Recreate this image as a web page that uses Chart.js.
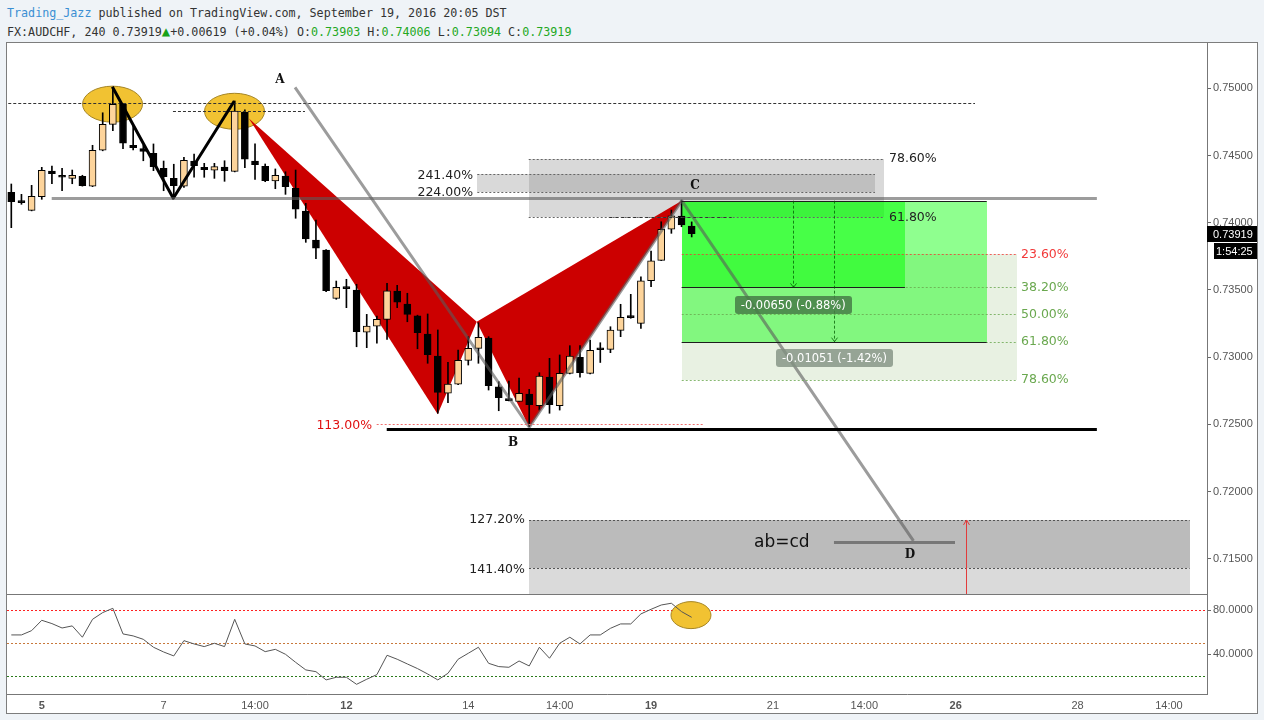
<!DOCTYPE html>
<html lang="en">
<head>
<meta charset="utf-8">
<title>FX:AUDCHF, 240</title>
<script src="https://cdn.jsdelivr.net/npm/chart.js@4.4.1/dist/chart.umd.min.js"></script>
<style>
  html, body { margin: 0; padding: 0; }
  body { width: 1264px; height: 720px; background: #eff3f7; position: relative; overflow: hidden; }
  #hdr { position: absolute; left: 7px; top: 4px; font: 11.7px "DejaVu Sans Mono", monospace; color: #333; line-height: 18px; white-space: pre; }
  #hdr .user { color: #3b8fd3; }
  #hdr .up { color: #18a218; font-size: 14px; }
  #hdr .g { color: #23a823; }
  #frame { position: absolute; left: 6px; top: 42px; width: 1252px; height: 672px; box-sizing: border-box; border: 1px solid #7d7d7d; background: #fff; }
  canvas { position: absolute; left: 7px; }
  #main { top: 43px; }
  #osc { top: 594px; }
</style>
</head>
<body>
<div id="hdr"><div><span class="user">Trading_Jazz</span> published on TradingView.com, September 19, 2016 20:05 DST</div><div>FX:AUDCHF, 240 0.73919<span class="up">▲</span>+0.00619 (+0.04%) O:<span class="g">0.73903</span> H:<span class="g">0.74006</span> L:<span class="g">0.73094</span> C:<span class="g">0.73919</span></div></div>
<div id="frame"></div>
<canvas id="main" width="1250" height="551"></canvas>
<canvas id="osc" width="1250" height="119"></canvas>
<script>
// ── Dados (barras de 4h, índice 0 = sex 2 set) ────────────────────────────────

const OPEN = [
    0.74226, 0.74162, 0.74092, 0.74193, 0.74385, 0.74353, 0.74330, 0.74345, 0.74271, 0.74539,
    0.74732, 0.74881, 0.74576, 0.74551, 0.74516, 0.74405, 0.74330, 0.74271, 0.74459, 0.74412,
    0.74390, 0.74414, 0.74382, 0.74824, 0.74459, 0.74420, 0.74310, 0.74347, 0.74256, 0.74087,
    0.73871, 0.73797, 0.73437, 0.73514, 0.73499, 0.73185, 0.73231, 0.73281, 0.73492, 0.73395,
    0.73308, 0.73172, 0.73008, 0.72731, 0.72798, 0.72976, 0.73065, 0.73142, 0.72778, 0.72686,
    0.72671, 0.72725, 0.72638, 0.72852, 0.72638, 0.72879, 0.72999, 0.72879, 0.73059, 0.73058,
    0.73199, 0.73296, 0.73251, 0.73568, 0.73720, 0.73951, 0.74050, 0.73975
];
const HIGH = [
    0.74288, 0.74211, 0.74278, 0.74412, 0.74422, 0.74405, 0.74392, 0.74353, 0.74576, 0.74818,
    0.75005, 0.74888, 0.74727, 0.74578, 0.74586, 0.74459, 0.74435, 0.74487, 0.74511, 0.74442,
    0.74442, 0.74461, 0.74906, 0.74839, 0.74586, 0.74437, 0.74400, 0.74379, 0.74392, 0.74144,
    0.74020, 0.73800, 0.73566, 0.73579, 0.73542, 0.73318, 0.73306, 0.73549, 0.73534, 0.73475,
    0.73312, 0.73321, 0.73202, 0.72961, 0.73053, 0.73152, 0.73256, 0.73152, 0.72817, 0.72822,
    0.72844, 0.72760, 0.72884, 0.72991, 0.73016, 0.73085, 0.73085, 0.73127, 0.73107, 0.73226,
    0.73393, 0.73467, 0.73598, 0.73789, 0.74007, 0.74094, 0.74164, 0.74006
];
const LOW = [
    0.73963, 0.74137, 0.74088, 0.74174, 0.74290, 0.74238, 0.74290, 0.74272, 0.74268, 0.74535,
    0.74685, 0.74551, 0.74541, 0.74461, 0.74387, 0.74238, 0.74185, 0.74263, 0.74338, 0.74338,
    0.74330, 0.74308, 0.74378, 0.74409, 0.74323, 0.74305, 0.74253, 0.74211, 0.74033, 0.73854,
    0.73732, 0.73487, 0.73430, 0.73368, 0.73077, 0.73070, 0.73103, 0.73132, 0.73368, 0.73263,
    0.73062, 0.72954, 0.72582, 0.72661, 0.72795, 0.72941, 0.72954, 0.72755, 0.72601, 0.72674,
    0.72668, 0.72482, 0.72606, 0.72582, 0.72606, 0.72875, 0.72850, 0.72875, 0.72960, 0.73033,
    0.73152, 0.73289, 0.73214, 0.73524, 0.73718, 0.73921, 0.73970, 0.73894
];
const CLOSE = [
    0.74156, 0.74150, 0.74196, 0.74390, 0.74365, 0.74338, 0.74353, 0.74275, 0.74539, 0.74732,
    0.74881, 0.74591, 0.74558, 0.74531, 0.74417, 0.74342, 0.74275, 0.74464, 0.74424, 0.74394,
    0.74417, 0.74387, 0.74831, 0.74472, 0.74432, 0.74312, 0.74353, 0.74268, 0.74100, 0.73879,
    0.73810, 0.73494, 0.73519, 0.73510, 0.73189, 0.73231, 0.73281, 0.73494, 0.73408, 0.73318,
    0.73182, 0.73018, 0.72738, 0.72800, 0.72976, 0.73065, 0.73147, 0.72787, 0.72698, 0.72676,
    0.72731, 0.72646, 0.72859, 0.72646, 0.72879, 0.73008, 0.72884, 0.73051, 0.73055, 0.73202,
    0.73296, 0.73294, 0.73568, 0.73717, 0.73951, 0.74052, 0.73983, 0.73919
];
const OSC = [
    57.6, 57.6, 61.5, 70.9, 67.9, 63.9, 65.8, 55.5, 71.8, 77.9,
    81.8, 58.5, 56.7, 53.6, 46.4, 42.1, 38.5, 52.4, 49.4, 47.0,
    50.0, 47.0, 71.8, 49.4, 47.6, 42.4, 44.5, 40.0, 32.7, 25.8,
    24.2, 16.7, 19.1, 19.1, 12.7, 17.3, 21.5, 39.1, 35.5, 31.2,
    27.0, 22.1, 16.7, 22.7, 35.5, 40.9, 46.4, 31.8, 28.8, 28.2,
    33.9, 29.4, 46.4, 36.4, 50.0, 55.5, 49.4, 57.6, 57.6, 63.6,
    67.6, 67.6, 76.7, 80.9, 84.8, 86.4, 78.8, 73.6
];

const DAY_TICKS   = [3, 15, 24, 33, 45, 54, 63, 75, 84, 93, 105, 114];
const DAY_LABELS  = ["5", "7", "14:00", "12", "14", "14:00", "19", "21", "14:00", "26", "28", "14:00"];
const BOLD_LABELS = ["5", "12", "19", "26"];
const PRICE_TICKS = [0.715, 0.72, 0.725, 0.73, 0.735, 0.74, 0.745, 0.75];
const OSC_TICKS   = [40, 80];
const OSC_LEVELS  = [80, 50, 20];
const LAST_PRICE  = 0.73919;
const COUNTDOWN   = "1:54:25";

// ── Desenhos (índice da barra, preço) ─────────────────────────────────────────

const PEAK_MARKS   = [[9.97, 0.74882], [21.98, 0.74829]];
const DOUBLE_TOP   = [[9.95, 0.75012], [15.95, 0.74182], [21.96, 0.74906]];
const TOP_LEVELS   = [[0.74893, -0.3, 94.9], [0.74833, 15.92, 28.92]];
const XAB          = [[23.4, 0.74775], [41.99, 0.72574], [45.83, 0.73263]];
const BCD          = [[45.83, 0.73263], [51.01, 0.72478], [66.02, 0.74164]];
const ABCD         = [[27.94, 0.75007], [51.01, 0.72478], [66.02, 0.74164], [88.84, 0.71632]];
const ABCD_NAMES   = ["A", "B", "C", "D"];
const ABCD_TEXT_AT = [[26.46, 0.75062], [49.41, 0.72361], [67.33, 0.74273], [88.5, 0.71528]];
const NECKLINE     = [0.74182, 3.98, 106.9];
const B_LEVEL      = [0.72467, 36.97, 106.9];
const EXT_113      = [0.725, 35.98, 68.11];
const EXT_ZONE_1   = [45.89, 85.05, 0.74361, 0.74225];
const EXT_ZONE_2   = [50.95, 85.94, 0.74474, 0.74045];
const EXT_DASH     = [0.74045, 58.89, 70.94];
const RETRACE_ZONE = [66.02, 99.0, 0.73765, 0.7283];
const RETRACE_LVLS = [0.73765, 0.73519, 0.73318, 0.73115, 0.7283];
const RETRACE_TXT  = ["23.60%", "38.20%", "50.00%", "61.80%", "78.60%"];
const TARGET_1     = [66.02, 88.0, 0.74164, 0.73519];
const TARGET_2     = [66.02, 96.05, 0.74164, 0.73115];
const TARGET_TXT   = ["-0.00650 (-0.88%)", "-0.01051 (-1.42%)"];
const TARGET_ARROW = [76.95, 81.01];
const TARGET_TXTAT = [[77.0, 0.73391], [81.06, 0.7299]];
const D_ZONE       = [50.98, 116.03, 0.71788, 0.71431];
const D_LINE       = [0.71622, 81.01, 92.93];
const D_ARROW      = [93.99, 0.71788];
const ABCD_TEXT    = ["ab=cd", 73.14, 0.71617];
const OSC_MARK     = [66.93, 75.6];

;(function () {

    // ── Constantes ────────────────────────────────────────────────────────────

    const X_MIN = -0.4234, X_MAX = 117.745;
    const P_MIN = 0.712374, P_MAX = 0.753371;
    const O_MIN = 3.9, O_MAX = 94.8;

    const COLORS = {
        tan: "#fdd49b",
        gray: "rgba(90,90,90,0.6)",
        red: "#cc0000",
        yellow: "#f1c232",
        yellowEdge: "#a58524",
        fibGreen: "#6aa84f",
        fibRed: "#f23a3a",
        axis: "#777",
        tick: "#555"
    };

    const SANS = "'DejaVu Sans', sans-serif";
    const AXIS = "'Liberation Sans', Arial, sans-serif";

    // ── Helpers ───────────────────────────────────────────────────────────────

    const px = (c, i) => c.scales.x.getPixelForValue(i);
    const py = (c, v) => c.scales.y.getPixelForValue(v);

    function fitY(s) {
        s.width = 50;
        s.paddingTop = 0;
        s.paddingBottom = 0;
    }

    function clipArea(ctx, a) {
        ctx.beginPath();
        ctx.rect(a.left, a.top, a.right - a.left, a.bottom - a.top);
        ctx.clip();
    }

    function path(ctx, c, pts, close) {
        ctx.beginPath();
        pts.forEach(([i, v], k) => k ? ctx.lineTo(px(c, i), py(c, v)) : ctx.moveTo(px(c, i), py(c, v)));
        if (close) ctx.closePath();
    }

    function hline(ctx, c, [v, i0, i1], color, width, dash) {
        const y = Math.round(py(c, v)) + (width % 2 ? 0.5 : 0);
        ctx.save();
        ctx.setLineDash(dash || []);
        ctx.strokeStyle = color;
        ctx.lineWidth = width;
        ctx.beginPath();
        ctx.moveTo(px(c, i0), y);
        ctx.lineTo(px(c, i1), y);
        ctx.stroke();
        ctx.restore();
    }

    function box(ctx, c, [i0, i1, v0, v1], fill) {
        const x0 = Math.round(px(c, i0)), x1 = Math.round(px(c, i1));
        const y0 = Math.round(py(c, v0)), y1 = Math.round(py(c, v1));
        ctx.fillStyle = fill;
        ctx.fillRect(x0, Math.min(y0, y1), x1 - x0, Math.abs(y1 - y0));
    }

    function ellipse(ctx, x, y, rx, ry) {
        ctx.beginPath();
        ctx.ellipse(x, y, rx, ry, 0, 0, Math.PI * 2);
        ctx.fillStyle = COLORS.yellow;
        ctx.fill();
        ctx.strokeStyle = COLORS.yellowEdge;
        ctx.lineWidth = 1;
        ctx.stroke();
    }

    function text(ctx, c, str, i, v, color, font, align) {
        ctx.fillStyle = color;
        ctx.font = font;
        ctx.textAlign = align || "left";
        ctx.textBaseline = "middle";
        ctx.fillText(str, px(c, i), py(c, v));
    }

    function arrowDown(ctx, x, y0, y1, color) {
        ctx.save();
        ctx.strokeStyle = color;
        ctx.lineWidth = 1;
        ctx.setLineDash([3, 2]);
        ctx.beginPath();
        ctx.moveTo(x, y0);
        ctx.lineTo(x, y1);
        ctx.stroke();
        ctx.setLineDash([]);
        ctx.beginPath();
        ctx.moveTo(x - 3, y1 - 4);
        ctx.lineTo(x, y1);
        ctx.lineTo(x + 3, y1 - 4);
        ctx.stroke();
        ctx.restore();
    }

    function tag(ctx, x, y, str, fill) {
        ctx.font = "11.5px " + SANS;
        const w = ctx.measureText(str).width + 12;
        ctx.fillStyle = fill;
        ctx.beginPath();
        ctx.roundRect(Math.round(x - w / 2), Math.round(y - 9), Math.round(w), 18, 3);
        ctx.fill();
        ctx.fillStyle = "#fff";
        ctx.textAlign = "center";
        ctx.textBaseline = "middle";
        ctx.fillText(str, x, y + 1);
    }

    // ── Plugin: desenhos do painel de preço ───────────────────────────────────

    const drawings = {
        id: "drawings",
        beforeDatasetsDraw(c) {
            const { ctx, chartArea: a } = c;
            ctx.save();
            clipArea(ctx, a);

            box(ctx, c, EXT_ZONE_1, "rgba(140,140,140,0.33)");
            box(ctx, c, EXT_ZONE_2, "rgba(140,140,140,0.33)");

            box(ctx, c, RETRACE_ZONE, "rgba(180,210,160,0.3)");
            box(ctx, c, TARGET_2, "rgba(0,255,0,0.44)");
            box(ctx, c, TARGET_1, "rgba(0,255,0,0.5)");

            box(ctx, c, [D_ZONE[0], D_ZONE[1], D_ZONE[3], P_MIN], "#dadada");
            box(ctx, c, D_ZONE, "#bbbbbb");

            PEAK_MARKS.forEach(([i, v]) => ellipse(ctx, px(c, i), py(c, v), 30, 18));

            ctx.fillStyle = COLORS.red;
            path(ctx, c, XAB, true);
            ctx.fill();
            path(ctx, c, BCD, true);
            ctx.fill();

            ctx.restore();
        },
        afterDatasetsDraw(c) {
            const { ctx, chartArea: a } = c;
            ctx.save();
            clipArea(ctx, a);

            TOP_LEVELS.forEach(l => hline(ctx, c, l, "#333", 1, [3, 2]));

            ctx.lineJoin = "round";
            ctx.strokeStyle = "#000";
            ctx.lineWidth = 3;
            path(ctx, c, DOUBLE_TOP);
            ctx.stroke();

            hline(ctx, c, NECKLINE, COLORS.gray, 3);
            ctx.strokeStyle = COLORS.gray;
            ctx.lineWidth = 3;
            path(ctx, c, ABCD);
            ctx.stroke();
            hline(ctx, c, B_LEVEL, "#000", 3);
            hline(ctx, c, EXT_113, "#f07070", 1, [2, 2]);

            [EXT_ZONE_1, EXT_ZONE_2].forEach(([i0, i1, v0, v1]) => {
                hline(ctx, c, [v0, i0, i1], "#666", 1, [2, 2]);
                hline(ctx, c, [v1, i0, i1], "#666", 1, [2, 2]);
            });
            hline(ctx, c, EXT_DASH, "#333", 1, [3, 3]);

            RETRACE_LVLS.forEach((v, k) => hline(ctx, c, [v, RETRACE_ZONE[0], RETRACE_ZONE[1]],
                k ? "rgba(106,168,79,0.8)" : "rgba(242,58,58,0.8)", 1, [2, 2]));
            hline(ctx, c, [TARGET_2[2], TARGET_2[0], TARGET_2[1]], "#1d1d1d", 1);
            hline(ctx, c, [TARGET_1[3], TARGET_1[0], TARGET_1[1]], "#1d1d1d", 1);
            hline(ctx, c, [TARGET_2[3], TARGET_2[0], TARGET_2[1]], "#1d1d1d", 1);

            arrowDown(ctx, Math.round(px(c, TARGET_ARROW[0])) + 0.5, py(c, TARGET_1[2]), py(c, TARGET_1[3]), "rgba(0,90,0,0.75)");
            arrowDown(ctx, Math.round(px(c, TARGET_ARROW[1])) + 0.5, py(c, TARGET_2[2]), py(c, TARGET_2[3]), "rgba(0,90,0,0.75)");
            tag(ctx, px(c, TARGET_TXTAT[0][0]), py(c, TARGET_TXTAT[0][1]), TARGET_TXT[0], "rgba(70,125,70,0.85)");
            tag(ctx, px(c, TARGET_TXTAT[1][0]), py(c, TARGET_TXTAT[1][1]), TARGET_TXT[1], "rgba(130,145,130,0.8)");

            hline(ctx, c, [D_ZONE[2], D_ZONE[0], D_ZONE[1]], "#555", 1, [2, 2]);
            hline(ctx, c, [D_ZONE[3], D_ZONE[0], D_ZONE[1]], "#555", 1, [2, 2]);
            hline(ctx, c, D_LINE, "#777", 3);

            // seta vermelha vertical
            const ax = Math.round(px(c, D_ARROW[0])) + 0.5, ay = py(c, D_ARROW[1]);
            ctx.strokeStyle = "#e23b3b";
            ctx.lineWidth = 1;
            ctx.beginPath();
            ctx.moveTo(ax, a.bottom);
            ctx.lineTo(ax, ay);
            ctx.moveTo(ax - 3, ay + 5);
            ctx.lineTo(ax, ay);
            ctx.lineTo(ax + 3, ay + 5);
            ctx.stroke();

            // textos
            const pct = "12.5px " + SANS;
            text(ctx, c, "241.40%", 45.47, EXT_ZONE_1[2] - 0.0001, "#222", pct, "right");
            text(ctx, c, "224.00%", 45.47, EXT_ZONE_1[3], "#222", pct, "right");
            text(ctx, c, "78.60%", 86.43, EXT_ZONE_2[2], "#222", pct);
            text(ctx, c, "61.80%", 86.43, EXT_ZONE_2[3] - 0.0001, "#222", pct);
            text(ctx, c, "113.00%", 35.52, EXT_113[0] - 0.0001, "#e01010", pct, "right");
            text(ctx, c, "127.20%", 50.58, D_ZONE[2], "#222", pct, "right");
            text(ctx, c, "141.40%", 50.58, D_ZONE[3] - 0.0001, "#222", pct, "right");
            RETRACE_TXT.forEach((t, k) => text(ctx, c, t, 99.43, RETRACE_LVLS[k],
                k ? COLORS.fibGreen : COLORS.fibRed, pct));
            text(ctx, c, ABCD_TEXT[0], ABCD_TEXT[1], ABCD_TEXT[2], "#111", "17px " + SANS);

            ABCD_NAMES.forEach((n, k) => text(ctx, c, n, ABCD_TEXT_AT[k][0], ABCD_TEXT_AT[k][1],
                "#111", "bold 12px 'DejaVu Serif', serif", "center"));

            ctx.restore();
        },
        afterDraw(c) {
            const { ctx, chartArea: a } = c;
            const y = Math.round(py(c, LAST_PRICE));
            ctx.save();
            ctx.fillStyle = "#000";
            ctx.fillRect(a.right, y - 8, 50, 16);
            ctx.fillRect(a.right + 7, y + 9, 43, 16);
            ctx.fillStyle = "#fff";
            ctx.font = "11px " + AXIS;
            ctx.textAlign = "left";
            ctx.textBaseline = "middle";
            ctx.fillText(LAST_PRICE.toFixed(5), a.right + 6, y + 0.5);
            ctx.fillText(COUNTDOWN, a.right + 9, y + 17.5);
            ctx.restore();
        }
    };

    // ── Plugin: painel do oscilador + eixo de datas ───────────────────────────

    const oscDrawings = {
        id: "oscDrawings",
        beforeDatasetsDraw(c) {
            const { ctx, chartArea: a } = c;
            const colors = ["#ff2020", "#c8783a", "#2a7a1a"];
            ctx.save();
            OSC_LEVELS.forEach((v, k) => hline(ctx, c, [v, X_MIN, X_MAX], colors[k], 1, [2, 2]));
            clipArea(ctx, a);
            ellipse(ctx, px(c, OSC_MARK[0]), py(c, OSC_MARK[1]), 20, 13.5);
            ctx.restore();
        },
        afterDraw(c) {
            const { ctx, chartArea: a } = c;
            ctx.save();
            ctx.strokeStyle = COLORS.axis;
            ctx.lineWidth = 1;
            ctx.beginPath();
            ctx.moveTo(a.left, a.top + 0.5);
            ctx.lineTo(a.right, a.top + 0.5);
            ctx.moveTo(a.left, a.bottom + 0.5);
            ctx.lineTo(a.right + 0.5, a.bottom + 0.5);
            ctx.stroke();

            ctx.fillStyle = COLORS.tick;
            ctx.textAlign = "center";
            ctx.textBaseline = "middle";
            DAY_TICKS.forEach((t, k) => {
                const lbl = DAY_LABELS[k];
                ctx.font = (BOLD_LABELS.includes(lbl) ? "bold " : "") + "11px " + AXIS;
                ctx.fillText(lbl, px(c, t), a.bottom + 11.5);
            });
            ctx.restore();
        }
    };

    // ── Gráfico de velas ──────────────────────────────────────────────────────

    new Chart(document.getElementById("main"), {
        type: "bar",
        data: {
            datasets: [
                {
                    label: "pavio",
                    data: LOW.map((l, i) => ({ x: i, y: [l, HIGH[i]] })),
                    backgroundColor: "#000",
                    barThickness: 1,
                    grouped: false,
                    order: 2
                },
                {
                    label: "corpo",
                    data: OPEN.map((o, i) => ({ x: i, y: [Math.min(o, CLOSE[i]), Math.max(o, CLOSE[i])] })),
                    backgroundColor: ctx => CLOSE[ctx.dataIndex] >= OPEN[ctx.dataIndex] ? COLORS.tan : "#000",
                    borderColor: "#000",
                    borderWidth: 1,
                    borderSkipped: false,
                    barThickness: 7,
                    minBarLength: 2,
                    grouped: false,
                    order: 1
                }
            ]
        },
        options: {
            responsive: false,
            animation: false,
            events: [],
            layout: { padding: 0 },
            plugins: { legend: { display: false }, tooltip: { enabled: false } },
            scales: {
                x: { type: "linear", min: X_MIN, max: X_MAX, offset: false, display: false },
                y: {
                    position: "right",
                    min: P_MIN,
                    max: P_MAX,
                    afterFit: fitY,
                    afterBuildTicks: s => { s.ticks = PRICE_TICKS.map(v => ({ value: v })); },
                    grid: { drawOnChartArea: false, tickLength: 4, color: "#666" },
                    border: { color: COLORS.axis },
                    ticks: {
                        padding: 2,
                        color: COLORS.tick,
                        font: { family: AXIS, size: 11 },
                        callback: v => v.toFixed(5)
                    }
                }
            }
        },
        plugins: [drawings]
    });

    // ── Oscilador ─────────────────────────────────────────────────────────────

    new Chart(document.getElementById("osc"), {
        type: "line",
        data: {
            datasets: [{
                data: OSC.map((v, i) => ({ x: i, y: v })),
                borderColor: "#555",
                borderWidth: 1,
                pointRadius: 0,
                tension: 0
            }]
        },
        options: {
            responsive: false,
            animation: false,
            events: [],
            layout: { padding: { top: 0, left: 0, right: 0, bottom: 19 } },
            plugins: { legend: { display: false }, tooltip: { enabled: false } },
            scales: {
                x: { type: "linear", min: X_MIN, max: X_MAX, offset: false, display: false },
                y: {
                    position: "right",
                    min: O_MIN,
                    max: O_MAX,
                    afterFit: fitY,
                    afterBuildTicks: s => { s.ticks = OSC_TICKS.map(v => ({ value: v })); },
                    grid: { drawOnChartArea: false, tickLength: 4, color: "#666" },
                    border: { color: COLORS.axis },
                    ticks: {
                        padding: 2,
                        color: COLORS.tick,
                        font: { family: AXIS, size: 11 },
                        callback: v => v.toFixed(4)
                    }
                }
            }
        },
        plugins: [oscDrawings]
    });

})();
</script>
</body>
</html>
